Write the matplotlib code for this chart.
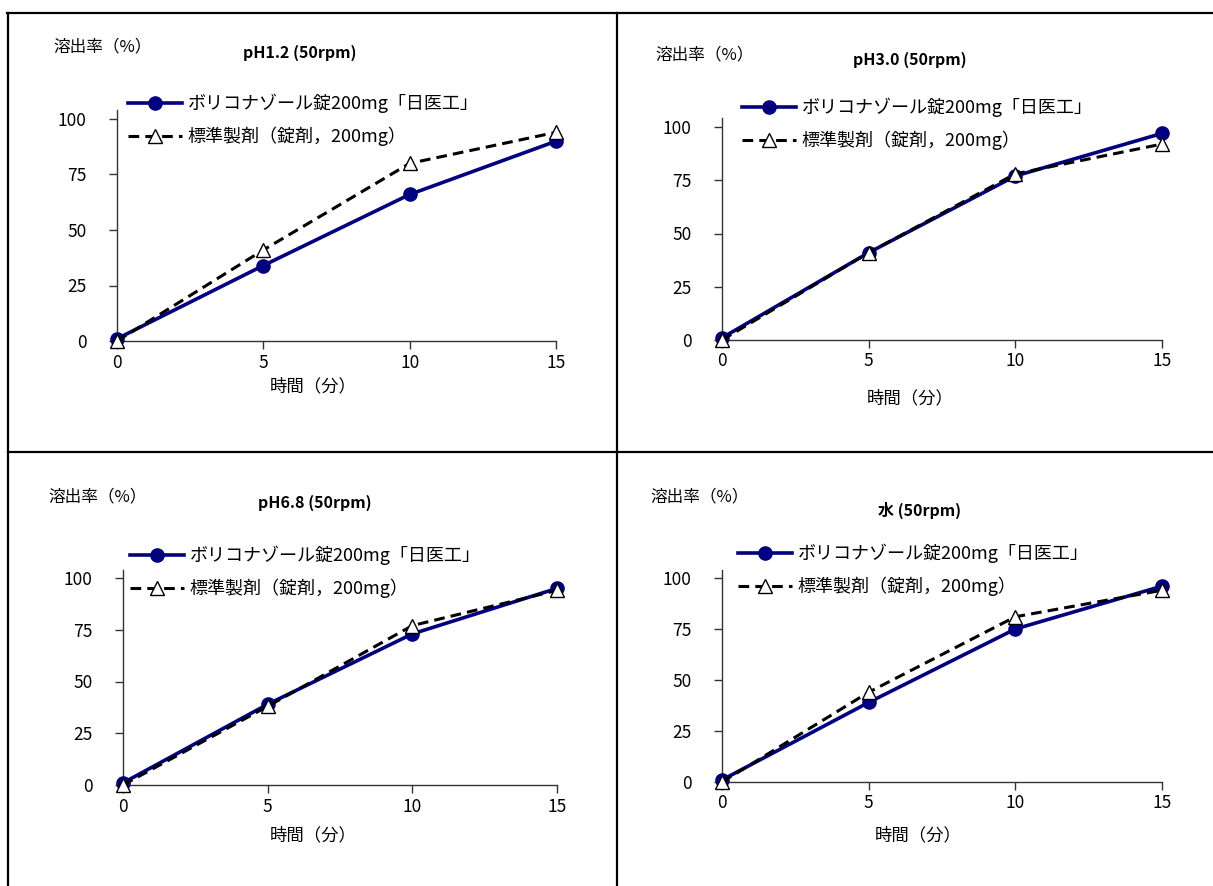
import matplotlib
matplotlib.use("Agg")
import matplotlib.pyplot as plt
from matplotlib.lines import Line2D

plt.rcParams['font.family'] = ['Noto Sans CJK JP', 'DejaVu Sans']

W, H = 1213, 886

# ---- data ----
times = [0, 5, 10, 15]
titles = ["pH1.2 (50rpm)", "pH3.0 (50rpm)", "pH6.8 (50rpm)", "水 (50rpm)"]
test_ph12 = [1, 34, 66, 90]
ref_ph12 = [0, 41, 80, 94]
test_ph30 = [1, 41, 77, 97]
ref_ph30 = [0, 41, 78, 92]
test_ph68 = [1, 39, 73, 95]
ref_ph68 = [0, 38, 77, 94]
test_water = [1, 39, 75, 96]
ref_water = [0, 44, 81, 94]
test_label = "ボリコナゾール錠200mg「日医工」"
ref_label = "標準製剤（錠剤，200mg）"
ylabel = "溶出率（%）"
xlabel = "時間（分）"
yticks = [0, 25, 50, 75, 100]
xticks = [0, 5, 10, 15]

tests = [test_ph12, test_ph30, test_ph68, test_water]
refs = [ref_ph12, ref_ph30, ref_ph68, ref_water]

fig = plt.figure(figsize=(W / 100, H / 100), dpi=100)


def fx(x):
    return x / W


def fy(y):
    return 1 - y / H


# grid lines of the table
lw_grid = 1.6
for (x0, y0, x1, y1) in [(7, 13, W, 13), (8, 13, 8, H), (617, 13, 617, H), (8, 452, W, 452)]:
    fig.add_artist(Line2D([fx(x0), fx(x1)], [fy(y0), fy(y1)], color='black', lw=lw_grid))

# panel layout (pixels): left, right, y of 0, y of 100
panels = [
    dict(l=117, r=556, y0=341, y100=119, ylab=(53, 47), title=(300, 53), leg=(128, 94), xlab=(313, 386)),
    dict(l=722, r=1162, y0=340, y100=127, ylab=(655, 55), title=(910, 60), leg=(742, 98), xlab=(910, 398)),
    dict(l=123, r=557, y0=785, y100=578, ylab=(48, 497), title=(315, 503), leg=(130, 546), xlab=(313, 835)),
    dict(l=722, r=1162, y0=782, y100=578, ylab=(650, 497), title=(920, 510), leg=(738, 544), xlab=(918, 835)),
]

ymax = 104
for i, p in enumerate(panels):
    ppu = (p['y0'] - p['y100']) / 100.0
    top = p['y0'] - ymax * ppu
    ax = fig.add_axes([fx(p['l']), fy(p['y0']), (p['r'] - p['l']) / W, (p['y0'] - top) / H])
    ax.set_xlim(0, 15)
    ax.set_ylim(0, ymax)
    ax.set_xticks(xticks)
    ax.set_yticks(yticks)
    for s in ['top', 'right']:
        ax.spines[s].set_visible(False)
    for s in ['left', 'bottom']:
        ax.spines[s].set_color('#333333')
        ax.spines[s].set_linewidth(1.0)
    ax.tick_params(axis='both', direction='out', length=6, width=1.0, color='#333333',
                   labelsize=12.5, labelcolor='black')
    ax.tick_params(axis='y', pad=16)
    ax.tick_params(axis='x', pad=3)
    ax.set_facecolor('none')

    ax.plot(times, tests[i], color='#000080', lw=2.6, marker='o', markersize=9.5,
            markerfacecolor='#000080', markeredgecolor='#000080', clip_on=False,
            label=test_label, zorder=3)
    ax.plot(times, refs[i], color='black', lw=2.2, ls=(0, (3.5, 2)), marker='^', markersize=10,
            markerfacecolor='white', markeredgecolor='black', markeredgewidth=1.0, clip_on=False,
            label=ref_label, zorder=4)

    leg = ax.legend(loc='upper left', bbox_to_anchor=(fx(p['leg'][0]), fy(p['leg'][1])),
                    bbox_transform=fig.transFigure, frameon=False, fontsize=13,
                    handlelength=3.0, handletextpad=0.3, labelspacing=0.75, borderpad=0,
                    borderaxespad=0)

    fig.text(fx(p['ylab'][0]), fy(p['ylab'][1]), ylabel, fontsize=12, ha='left', va='center')
    fig.text(fx(p['title'][0]), fy(p['title'][1]), titles[i], fontsize=11.5, fontweight='bold',
             ha='center', va='center')
    fig.text(fx(p['xlab'][0]), fy(p['xlab'][1]), xlabel, fontsize=12.5, ha='center', va='center')

fig.savefig('out.png', dpi=100)
